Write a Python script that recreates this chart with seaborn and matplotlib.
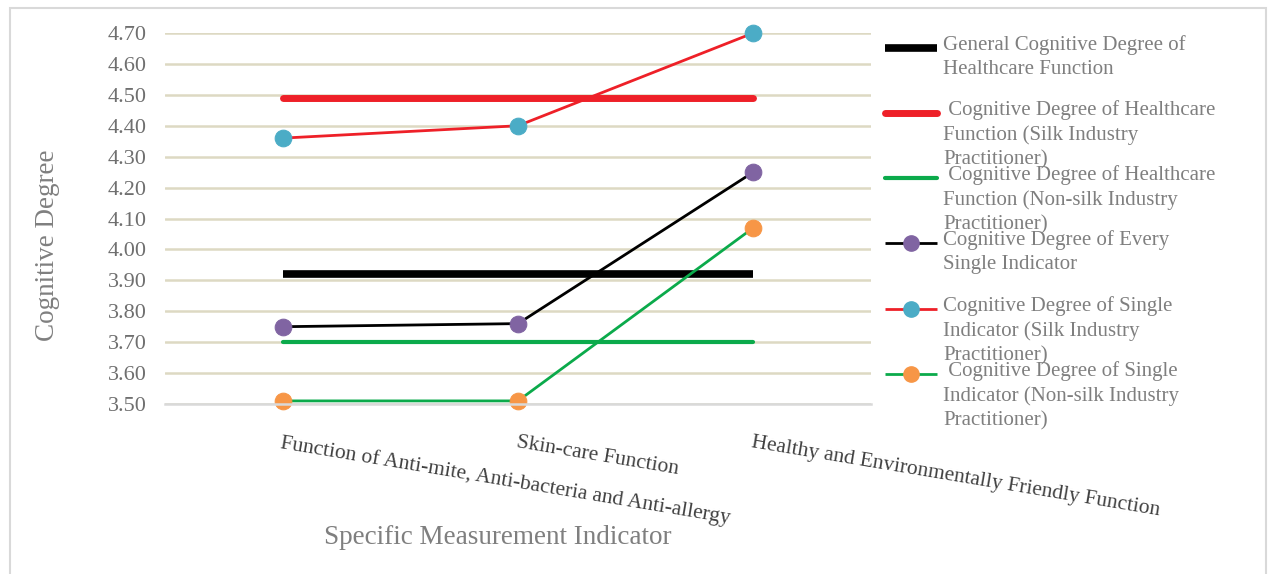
import numpy as np
import pandas as pd
import matplotlib.pyplot as plt
import seaborn as sns
from matplotlib.lines import Line2D
from matplotlib.patches import Rectangle

# data
indicators = [
    "Function of Anti-mite, Anti-bacteria and Anti-allergy",
    "Skin-care Function",
    "Healthy and Environmentally Friendly Function",
]
general_degree = 3.92
silk_degree = 4.49
nonsilk_degree = 3.70
every_single = [3.75, 3.76, 4.25]
silk_single = [4.36, 4.40, 4.70]
nonsilk_single = [3.51, 3.51, 4.07]

labels = [
    "General Cognitive Degree of\nHealthcare Function",
    " Cognitive Degree of Healthcare\nFunction (Silk Industry\nPractitioner)",
    " Cognitive Degree of Healthcare\nFunction (Non-silk Industry\nPractitioner)",
    "Cognitive Degree of Every\nSingle Indicator",
    "Cognitive Degree of Single\nIndicator (Silk Industry\nPractitioner)",
    " Cognitive Degree of Single\nIndicator (Non-silk Industry\nPractitioner)",
]

sns.set_theme(style="white")
plt.rcParams['font.family'] = ['Liberation Serif', 'DejaVu Serif']

W, H = 1268, 574
fig = plt.figure(figsize=(W / 100, H / 100), dpi=100)
ax = fig.add_axes([165 / W, 1 - 404 / H, (871 - 165) / W, (404 - 33) / H])

# outer frame
fig.patches.append(Rectangle((10 / W, -0.01), (1266 - 10) / W, 1 - 8 / H + 0.01,
                             transform=fig.transFigure, fill=False,
                             edgecolor="#D9D9D9", linewidth=1.5))

df = pd.DataFrame({
    "indicator": indicators,
    "general": [general_degree] * len(indicators),
    "silk": [silk_degree] * len(indicators),
    "nonsilk": [nonsilk_degree] * len(indicators),
    "every": every_single,
    "silk_single": silk_single,
    "nonsilk_single": nonsilk_single,
})

styles = [
    ("general", dict(color="black", linewidth=5.5, solid_capstyle="butt")),
    ("silk", dict(color="#EE2028", linewidth=5, solid_capstyle="round")),
    ("nonsilk", dict(color="#0BAA4B", linewidth=3, solid_capstyle="round")),
    ("every", dict(color="black", linewidth=2, marker="o", markersize=12,
                   markerfacecolor="#8064A2", markeredgecolor="#8064A2")),
    ("silk_single", dict(color="#EE2028", linewidth=2, marker="o", markersize=12,
                         markerfacecolor="#4BACC6", markeredgecolor="#4BACC6")),
    ("nonsilk_single", dict(color="#0BAA4B", linewidth=2, marker="o", markersize=12,
                            markerfacecolor="#F79646", markeredgecolor="#F79646")),
]

for col, kw in styles:
    sns.lineplot(data=df, x="indicator", y=col, ax=ax, legend=False,
                 clip_on=False, **kw)

ax.set_xlim(-0.5, 2.5)
ax.set_ylim(3.5, 4.7)
ax.set_yticks(np.round(np.arange(3.5, 4.71, 0.1), 2))
ax.set_yticklabels([f"{v:.2f}" for v in np.arange(3.5, 4.71, 0.1)],
                   fontsize=16, color="#6F6F6F")
ax.tick_params(axis="y", length=0, pad=13)
ax.yaxis.grid(True, color="#DDD9C3", linewidth=1.8)
ax.set_axisbelow(True)

ax.set_xticks(range(len(indicators)))
ax.set_xticklabels(indicators, rotation=-9.5, ha="left", va="top",
                   rotation_mode="anchor", fontsize=15.5, color="#404040")
ax.tick_params(axis="x", length=0, pad=21)

for s in ["left", "right", "top"]:
    ax.spines[s].set_visible(False)
ax.spines["bottom"].set_color("#D9D9D9")
ax.spines["bottom"].set_linewidth(1.8)

ax.set_ylabel("Cognitive Degree", fontsize=19.5, color="#7F7F7F")
ax.yaxis.set_label_coords(48 / W, 1 - 245 / H, transform=fig.transFigure)
ax.set_xlabel("Specific Measurement Indicator", fontsize=19.5, color="#7F7F7F")
ax.xaxis.set_label_coords(498 / W, 1 - 537 / H, transform=fig.transFigure)
ax.xaxis.label.set_va("center")
ax.yaxis.label.set_va("center")

# legend drawn by hand to keep the fixed entry spacing of the original
handle_y = [48, 113, 178, 243, 309, 374]
for (col, kw), lab, hy in zip(styles, labels, handle_y):
    yf = 1 - hy / H
    fig.lines.append(Line2D([885 / W, 937 / W], [yf, yf], transform=fig.transFigure,
                            color=kw["color"], linewidth=kw["linewidth"],
                            solid_capstyle=kw.get("solid_capstyle", "butt")))
    if "marker" in kw:
        fig.lines.append(Line2D([911 / W], [yf], transform=fig.transFigure,
                                marker="o", markersize=11, linestyle="none",
                                color=kw["markerfacecolor"]))
    fig.text(943 / W, 1 - (hy - 13) / H, lab, fontsize=15, color="#7F7F7F",
             va="top", ha="left", linespacing=1.37)

fig.savefig("out.png", dpi=100)
